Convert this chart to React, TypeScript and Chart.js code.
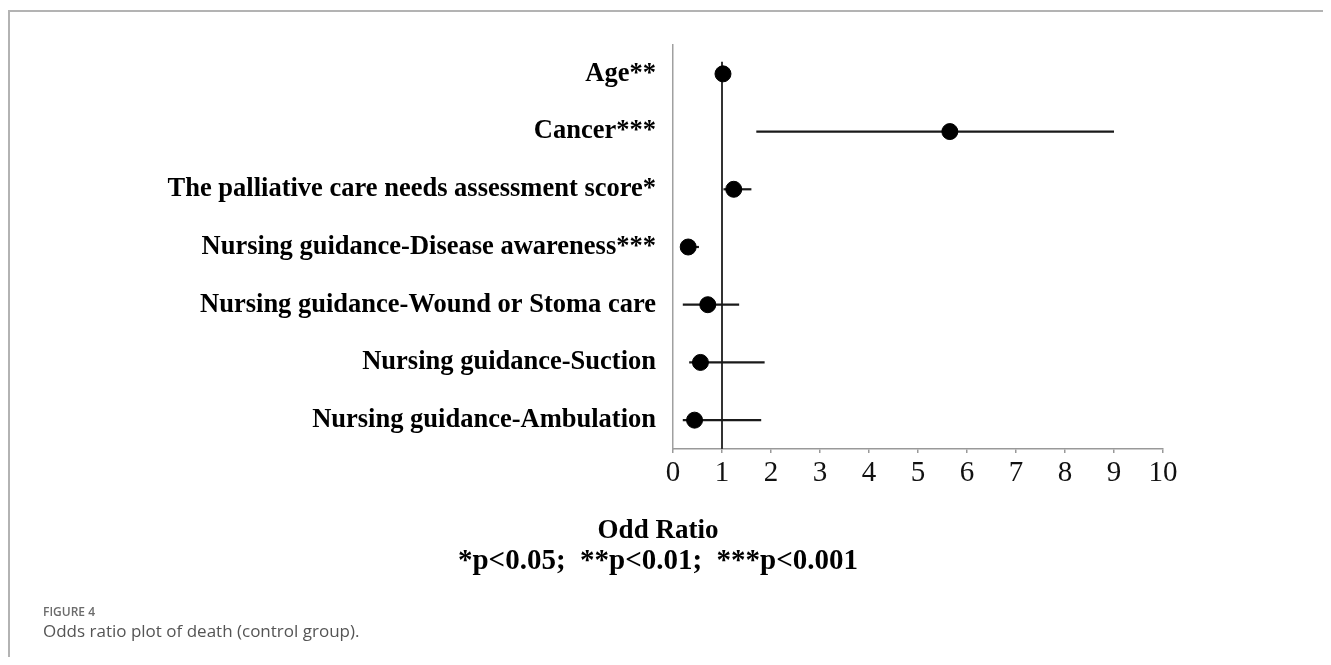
import React, { useEffect, useRef } from "react";
import { Chart, registerables } from "chart.js";

Chart.register(...registerables);

const rowLabels = [
  "Age**",
  "Cancer***",
  "The palliative care needs assessment score*",
  "Nursing guidance-Disease awareness***",
  "Nursing guidance-Wound or Stoma care",
  "Nursing guidance-Suction",
  "Nursing guidance-Ambulation",
];
const oddsRatio = [1.02, 5.65, 1.24, 0.31, 0.71, 0.56, 0.44];
const ciLower = [1.0, 1.7, 1.03, 0.17, 0.2, 0.33, 0.2];
const ciUpper = [1.04, 9.0, 1.6, 0.53, 1.35, 1.87, 1.8];
const xTicks = [0, 1, 2, 3, 4, 5, 6, 7, 8, 9, 10];
const refLine = [
  { x: 1, y: -0.21 },
  { x: 1, y: 6.5 },
];

const axisTitle = "Odd Ratio";
const noteText = "*p<0.05;  **p<0.01;  ***p<0.001";
const figureLabel = "FIGURE 4";
const captionText = "Odds ratio plot of death (control group).";

export default function App() {
  const canvasRef = useRef<HTMLCanvasElement | null>(null);

  useEffect(() => {
    if (!canvasRef.current) return;
    const ciSets = rowLabels.map((_, i) => ({
      type: "line" as const,
      data: [
        { x: ciLower[i], y: i },
        { x: ciUpper[i], y: i },
      ],
      borderColor: "#1a1a1a",
      borderWidth: 2.2,
      pointRadius: 0,
      showLine: true,
      order: 2,
    }));

    const titlePlugin = {
      id: "bottomText",
      afterDraw(chart: any) {
        const ctx = chart.ctx;
        ctx.save();
        ctx.fillStyle = "#000";
        ctx.textAlign = "center";
        ctx.textBaseline = "alphabetic";
        ctx.font = "bold 27px 'Liberation Serif'";
        ctx.fillText(axisTitle, 650, 530);
        ctx.font = "bold 29px 'Liberation Serif'";
        ctx.fillText(noteText, 650, 561);
        ctx.restore();
      },
    };

    const chart = new Chart(canvasRef.current, {
      type: "scatter",
      data: {
        datasets: [
          {
            type: "line" as const,
            data: refLine,
            borderColor: "#333",
            borderWidth: 2,
            pointRadius: 0,
            showLine: true,
            order: 3,
          },
          ...ciSets,
          {
            type: "scatter" as const,
            data: oddsRatio.map((v, i) => ({ x: v, y: i })),
            backgroundColor: "#000",
            borderColor: "#000",
            pointRadius: 8,
            order: 1,
          },
        ] as any,
      },
      options: {
        animation: false,
        responsive: false,
        maintainAspectRatio: false,
        layout: { padding: { left: 0, right: 168, top: 37, bottom: 148 } },
        plugins: {
          legend: { display: false },
          tooltip: { enabled: false },
        },
        scales: {
          x: {
            type: "linear",
            min: 0,
            max: 10,
            afterBuildTicks: (scale: any) => {
              scale.ticks = xTicks.map((v) => ({ value: v }));
            },
            afterFit: (scale: any) => {
              scale.height = 60;
            },
            grid: {
              display: true,
              drawOnChartArea: false,
              drawTicks: true,
              tickLength: 4,
              color: "#999",
              lineWidth: 1.5,
            },
            border: { display: true, color: "#999", width: 1.5 },
            ticks: {
              color: "#111",
              padding: 3,
              font: { family: "'Liberation Serif'", size: 29 },
              callback: (v: any) => String(v),
            },
          },
          y: {
            type: "linear",
            min: -0.5,
            max: 6.5,
            reverse: true,
            afterBuildTicks: (scale: any) => {
              scale.ticks = rowLabels.map((_, i) => ({ value: i }));
            },
            afterFit: (scale: any) => {
              scale.width = 665;
            },
            grid: { display: false },
            border: { display: true, color: "#a0a0a0", width: 1.5 },
            ticks: {
              color: "#000",
              padding: 9,
              font: { family: "'Liberation Serif'", size: 26.5, weight: "bold" },
              callback: (v: any) => rowLabels[v as number] ?? "",
            },
          },
        },
      },
      plugins: [titlePlugin],
    } as any);
    return () => chart.destroy();
  }, []);

  return (
    <div style={{ position: "relative", width: 1323, height: 649 }}>
      <div
        style={{
          position: "absolute",
          left: 0,
          top: 2,
          width: 1323,
          height: 647,
          borderTop: "2px solid #b3b3b3",
          borderLeft: "2px solid #b3b3b3",
          boxSizing: "border-box",
        }}
      />
      <canvas
        ref={canvasRef}
        width={1323}
        height={649}
        style={{ position: "absolute", left: 0, top: 0, width: 1323, height: 649 }}
      />
      <div
        style={{
          position: "absolute",
          left: 35,
          top: 598,
          fontFamily: "'Open Sans', sans-serif",
          fontSize: 12,
          lineHeight: "12px",
          fontWeight: 600,
          color: "#6b6b6b",
        }}
      >
        {figureLabel}
      </div>
      <div
        style={{
          position: "absolute",
          left: 35,
          top: 614,
          fontFamily: "'Open Sans', sans-serif",
          fontSize: 17,
          lineHeight: "17px",
          color: "#555",
        }}
      >
        {captionText}
      </div>
    </div>
  );
}
